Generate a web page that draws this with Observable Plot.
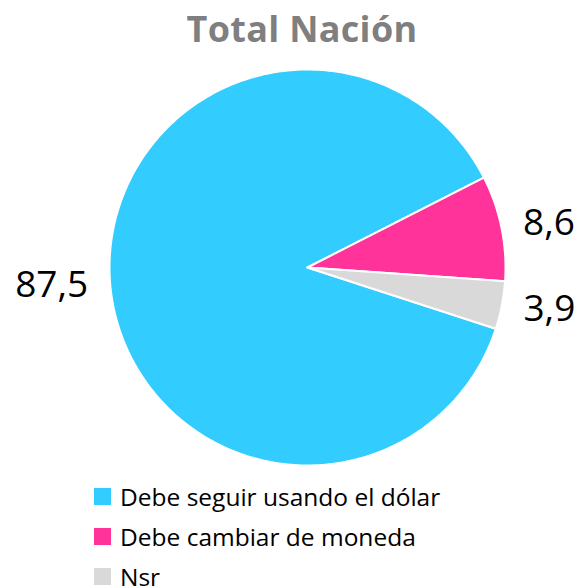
<!DOCTYPE html>
<html><head><meta charset="utf-8">
<script src="https://cdn.jsdelivr.net/npm/d3@7"></script>
<script src="https://cdn.jsdelivr.net/npm/@observablehq/plot@0.6"></script>
<style>
body{margin:0;background:#fff;width:580px;font-family:"Open Sans","Noto Sans",sans-serif;}
#title{height:62px;text-align:center;font-weight:bold;font-size:36px;color:#7f7f7f;line-height:1;padding-top:11px;padding-left:24px;box-sizing:border-box;letter-spacing:0.3px}
#chart svg{display:block}
#legend{margin-left:94px}
.row{height:40px;display:flex;align-items:center;font-size:24.5px;color:#000;letter-spacing:0}
.sw{width:17px;height:17px;margin-right:9px;flex:none}
</style></head><body>
<div id="title"></div>
<div id="chart"></div>
<div id="legend"></div>
<script>
const title = "Total Nación";
const categories = ["Debe seguir usando el dólar", "Debe cambiar de moneda", "Nsr"];
const values = [87.5, 8.6, 3.9];
const colors = ["#33ccff", "#ff3399", "#d9d9d9"];
const startDeg = 108; // rotation of first slice (clockwise from top)

const data = categories.map((c, i) => ({cat: c, value: values[i]}));
const a0 = startDeg * Math.PI / 180;
const arcs = d3.pie().sort(null).value(d => d.value).startAngle(a0).endAngle(a0 + 2 * Math.PI)(data);

// polygon points for each slice (unit radius, y up)
const pts = [];
arcs.forEach(a => {
  const n = Math.max(2, Math.ceil((a.endAngle - a.startAngle) / (2 * Math.PI) * 360));
  pts.push({cat: a.data.cat, x: 0, y: 0});
  for (let k = 0; k <= n; k++) {
    const t = a.startAngle + (a.endAngle - a.startAngle) * k / n;
    pts.push({cat: a.data.cat, x: Math.sin(t), y: Math.cos(t)});
  }
  pts.push({cat: a.data.cat, x: 0, y: 0});
});

const fmt = v => d3.format(".1f")(v).replace(".", ",");
const lr = 1.111;
const labels = arcs.map(a => {
  const m = (a.startAngle + a.endAngle) / 2;
  return {x: lr * Math.sin(m), y: lr * Math.cos(m), text: fmt(a.data.value), left: Math.sin(m) < 0};
});

document.getElementById("title").textContent = title;

const chart = Plot.plot({
  width: 580,
  height: 414,
  margin: 0,
  x: {domain: [-1.5505, 1.3788], axis: null},
  y: {domain: [-1.0556, 1.0354], axis: null},
  color: {domain: categories, range: colors},
  marks: [
    Plot.line(pts, {x: "x", y: "y", z: "cat", fill: "cat", stroke: "white", strokeWidth: 2, curve: "linear", strokeLinejoin: "round"}),
    Plot.text(labels.filter(d => d.left), {x: "x", y: "y", text: "text", textAnchor: "end", lineAnchor: "middle", fontSize: 37, fill: "black"}),
    Plot.text(labels.filter(d => !d.left), {x: "x", y: "y", text: "text", textAnchor: "start", lineAnchor: "middle", fontSize: 37, fill: "black"})
  ]
});
chart.style.fontFamily = '"Open Sans", "Noto Sans", sans-serif';
document.getElementById("chart").appendChild(chart);

const legend = d3.select("#legend");
categories.forEach((c, i) => {
  const row = legend.append("div").attr("class", "row");
  row.append("div").attr("class", "sw").style("background", colors[i]);
  row.append("span").text(c);
});
</script>
</body></html>
